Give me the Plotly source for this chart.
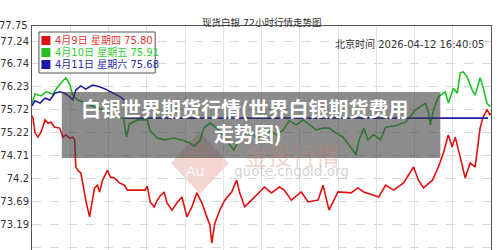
import plotly.graph_objects as go

# ---------------- data ----------------
y_ticks = [77.75, 77.24, 76.74, 76.23, 75.72, 75.22, 74.71, 74.2, 73.69, 73.19, 72.68]
y_tick_text = ["77.75", "77.24", "76.74", "76.23", "75.72", "75.22", "74.71", "74.2", "73.69", "73.19", "72.68"]

series_names = ["4月9日 星期四 75.80", "4月10日 星期五 75.91", "4月11日 星期六 75.68"]

red_t = [0, 0.05, 0.16, 0.31, 0.47, 0.68, 0.83, 0.99, 1.19, 1.45,
         1.61, 1.77, 1.97, 2.13, 2.23, 2.29, 2.39, 2.55, 2.65, 2.81,
         3.01, 3.17, 3.27, 3.43, 3.53, 3.69, 3.95, 4.10, 4.31, 4.57,
         4.83, 4.99, 5.92, 6.03, 6.18, 6.39, 6.55, 6.70, 6.91, 7.06,
         7.32, 7.58, 7.84, 8.10, 8.36, 8.62, 8.88, 9.14, 9.30, 9.40,
         9.56, 9.82, 10.08, 10.44, 10.70, 10.86, 11.12, 11.48, 11.84, 12.16,
         12.52, 12.94, 13.19, 13.56, 14.08, 14.44, 14.96, 15.22, 15.53, 16.00,
         16.68, 17.04, 17.35, 18.13, 18.49, 18.91, 19.43, 19.95, 20.21, 20.47,
         20.94, 21.25, 21.51, 21.77, 21.97, 22.13, 22.39, 22.65, 22.91, 23.17,
         23.43, 23.58, 23.79, 23.95, 24.0]
red_v = [75.59, 75.54, 75.21, 75.12, 75.23, 75.50, 75.43, 75.45, 75.34, 75.32,
         75.12, 75.17, 75.10, 75.12, 75.06, 74.46, 74.39, 74.33, 74.11, 73.73,
         73.36, 73.73, 74.00, 74.06, 73.91, 74.17, 74.39, 74.24, 74.22, 74.11,
         74.06, 73.95, 73.95, 74.04, 73.69, 73.58, 73.73, 73.82, 73.91, 73.67,
         73.51, 73.67, 73.80, 73.36, 73.58, 73.89, 73.67, 73.36, 73.18, 72.78,
         73.22, 73.51, 73.73, 73.91, 74.17, 73.89, 73.58, 73.73, 73.89, 74.02,
         73.89, 74.02, 73.95, 73.73, 73.91, 73.69, 73.73, 74.06, 73.51, 73.91,
         73.89, 74.00, 73.91, 73.80, 74.06, 73.95, 74.11, 74.46, 74.17, 74.00,
         74.17, 74.46, 74.77, 75.17, 74.90, 75.12, 74.68, 74.22, 74.55, 74.46,
         75.32, 75.56, 75.72, 75.61, 75.65]

green_t = [0, 0.16, 0.47, 0.73, 1.09, 1.35, 1.61, 1.77, 1.97, 2.13,
           2.39, 2.91, 3.43, 3.79, 4.10, 4.47, 4.78, 4.94, 5.09, 5.51,
           6.03, 6.18, 6.55, 6.91, 7.43, 7.95, 8.26, 8.47, 8.78, 8.99,
           9.30, 9.51, 9.82, 10.18, 10.55, 10.81, 11.06, 11.38, 11.74, 12.10,
           12.42, 12.78, 13.14, 13.45, 13.82, 14.18, 14.49, 14.86, 15.22, 15.53,
           15.90, 16.26, 16.57, 16.94, 17.09, 17.35, 17.56, 17.87, 18.23, 18.49,
           19.01, 19.53, 20.05, 20.31, 20.57, 20.73, 20.83, 20.99, 21.25, 21.61,
           21.77, 22.03, 22.24, 22.39, 22.55, 22.75, 23.01, 23.17, 23.43, 23.58,
           23.79, 23.95]
green_v = [75.87, 76.07, 76.03, 76.12, 76.07, 76.23, 76.36, 76.43, 76.29, 76.05,
           75.94, 75.85, 75.76, 75.72, 75.59, 75.56, 75.54, 75.12, 75.41, 75.50,
           75.50, 75.26, 75.10, 75.06, 75.10, 75.04, 74.99, 74.92, 75.04, 75.32,
           75.43, 75.37, 75.26, 75.04, 74.84, 75.04, 75.17, 75.26, 75.10, 75.17,
           75.26, 75.17, 75.28, 75.48, 75.39, 75.50, 75.39, 75.28, 75.32, 75.32,
           75.21, 75.12, 74.95, 74.73, 75.04, 75.32, 75.06, 75.17, 75.06, 75.34,
           75.37, 75.45, 75.72, 75.79, 75.87, 75.65, 75.39, 75.72, 76.01, 76.12,
           75.87, 76.20, 76.09, 76.54, 76.56, 76.45, 76.16, 76.05, 76.43, 76.23,
           75.87, 75.79]

blue_t = [0, 0.16, 0.42, 0.68, 0.94, 1.19, 1.45, 1.71, 1.97, 2.13,
          2.29, 2.55, 2.81, 3.17, 3.53, 3.84, 4.10, 4.36, 4.62, 4.83,
          4.88, 23.84]
blue_v = [75.81, 75.92, 75.87, 75.98, 75.94, 76.09, 76.12, 76.09, 76.01, 75.94,
          76.16, 76.25, 76.18, 76.27, 76.23, 76.18, 76.12, 76.07, 76.01, 75.94,
          75.54, 75.54]

line_colors = ["#e01010", "#22c022", "#1a1aa8"]
text_colors = ["#e03535", "#33cc33", "#2b2ba0"]

# ---------------- figure ----------------
W, H = 500, 250
L, R, T, B = 29, 9, 26, 0
pw, ph = W - L - R, H - T - B
Y_LO = 72.629
Y_HI = 77.573


def px(x):
    return (x - L) / pw


def py(y):
    return (H - B - y) / ph


fig = go.Figure()
for t, v, c, n in [(red_t, red_v, line_colors[0], series_names[0]),
                   (green_t, green_v, line_colors[1], series_names[1]),
                   (blue_t, blue_v, line_colors[2], series_names[2])]:
    fig.add_trace(go.Scatter(x=t, y=v, mode="lines", name=n,
                             line=dict(color=c, width=1.6),
                             hoverinfo="skip"))

shapes = []
annotations = []

# watermark diamond
cx, cy, hw, hh = 198, 163, 29, 31
shapes.append(dict(type="path", xref="paper", yref="paper",
                   path=f"M {px(cx-hw)} {py(cy)} L {px(cx)} {py(cy-hh)} L {px(cx+hw)} {py(cy)} L {px(cx)} {py(cy+hh)} Z",
                   fillcolor="rgba(215,120,100,0.30)", line=dict(width=0), layer="below"))
annotations.append(dict(x=px(193), y=py(171), xref="paper", yref="paper", text="Au",
                        showarrow=False, font=dict(family="DejaVu Sans", size=14, color="rgba(255,255,255,0.95)")))
annotations.append(dict(x=px(291), y=py(154), xref="paper", yref="paper", text="金投行情",
                        showarrow=False, font=dict(family="Noto Sans CJK SC", size=24, color="rgba(210,130,110,0.35)")))
annotations.append(dict(x=px(290), y=py(181), xref="paper", yref="paper", text="quote.cngold.org",
                        showarrow=False, font=dict(family="DejaVu Sans", size=13.5, color="rgba(140,140,140,0.40)")))

# legend box
shapes.append(dict(type="rect", xref="paper", yref="paper",
                   x0=px(36), x1=px(153), y0=py(73), y1=py(32),
                   fillcolor="white", line=dict(color="#555555", width=1), layer="above"))
row_y = [40.5, 52.5, 64.5]
for i in range(3):
    shapes.append(dict(type="rect", xref="paper", yref="paper",
                       x0=px(38.5), x1=px(47.5), y0=py(row_y[i] + 4.5), y1=py(row_y[i] - 4.5),
                       fillcolor=line_colors[i], line=dict(width=0), layer="above"))
    annotations.append(dict(x=px(50), y=py(row_y[i]), xref="paper", yref="paper",
                            xanchor="left", yanchor="middle", text=series_names[i], showarrow=False,
                            font=dict(family="DejaVu Sans, Noto Sans CJK SC", size=10, color=text_colors[i])))

# gray overlay with headline
shapes.append(dict(type="rect", xref="paper", yref="paper",
                   x0=px(59), x1=px(440), y0=py(158), y1=py(92),
                   fillcolor="rgba(64,64,64,0.60)", line=dict(width=0), layer="above"))
annotations.append(dict(x=px(243), y=py(108), xref="paper", yref="paper",
                        text="<b>白银世界期货行情(世界白银期货费用</b>", showarrow=False,
                        font=dict(family="Noto Sans CJK SC", size=20, color="white")))
annotations.append(dict(x=px(246), y=py(133), xref="paper", yref="paper",
                        text="<b>走势图)</b>", showarrow=False,
                        font=dict(family="Noto Sans CJK SC", size=20, color="white")))

# title and timestamp
annotations.append(dict(x=px(260), y=py(15), xref="paper", yref="paper",
                        text="现货白银 72小时行情走势图", showarrow=False,
                        font=dict(family="DejaVu Sans, Noto Sans CJK SC", size=9.5, color="#333333")))
annotations.append(dict(x=px(486), y=py(36), xref="paper", yref="paper", xanchor="right",
                        text="北京时间 2026-04-12 16:40:05", showarrow=False,
                        font=dict(family="DejaVu Sans, Noto Sans CJK SC", size=10, color="#333333")))

# top tick label (sits above the plotting box)
top_label_y = py(18)
annotations.append(dict(x=0, y=top_label_y, xref="paper", yref="paper", xanchor="right",
                        xshift=-2, text=y_tick_text[0], showarrow=False,
                        font=dict(family="DejaVu Sans", size=10, color="#333333")))

fig.update_layout(
    width=W, height=H,
    margin=dict(l=L, r=R, t=T, b=B, pad=0),
    paper_bgcolor="white", plot_bgcolor="white",
    showlegend=False,
    shapes=shapes, annotations=annotations,
    xaxis=dict(range=[0, 24], dtick=2, tick0=0, showgrid=True, gridcolor="#e4e4e4", gridwidth=1,
               showticklabels=False, ticks="", zeroline=False, side="top",
               showline=True, linecolor="#555555", linewidth=1, mirror=False),
    yaxis=dict(range=[Y_LO, Y_HI], tickmode="array", tickvals=y_ticks, ticktext=y_tick_text,
               showgrid=True, gridcolor="#d8d8d8", griddash="dash", gridwidth=1,
               ticks="", zeroline=False, showline=True, linecolor="#555555", linewidth=1, mirror=True,
               tickfont=dict(family="DejaVu Sans", size=10, color="#333333")),
)

fig.write_html("out.html")
